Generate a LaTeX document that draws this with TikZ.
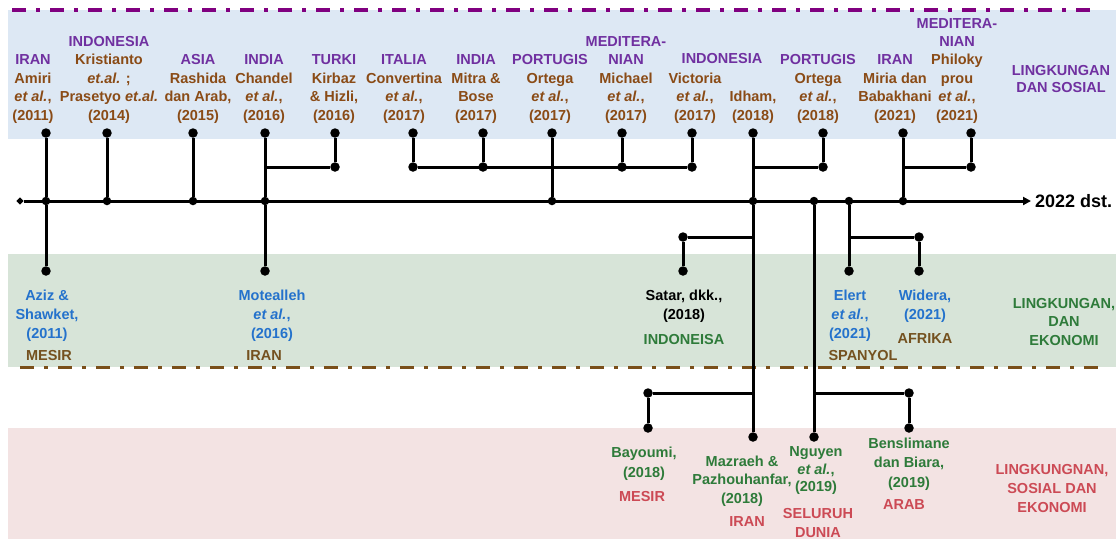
\documentclass[tikz,border=0pt]{standalone}
\usepackage{fontspec}
\setmainfont{Liberation Sans}
\usetikzlibrary{arrows.meta,shapes.geometric}

\definecolor{regpurple}{HTML}{7030A0}
\definecolor{dashpurple}{HTML}{800080}
\definecolor{authbrown}{HTML}{8A4B16}
\definecolor{regbrown}{HTML}{74511F}
\definecolor{authblue}{HTML}{2472CC}
\definecolor{themegreen}{HTML}{2E7B3A}
\definecolor{themered}{HTML}{CC4A55}
\definecolor{bandblue}{HTML}{DDE8F4}
\definecolor{bandgreen}{HTML}{D7E4D8}
\definecolor{bandred}{HTML}{F3E3E3}
\definecolor{dashbrown}{HTML}{7A4F1A}

\newcommand{\lblfont}{\fontsize{14.5}{18.4}\selectfont\bfseries}
\newcommand{\EtAl}{\textit{et al.}}

\begin{document}
\begin{tikzpicture}[x=1pt,y=-1pt,
  lbl/.style={font=\lblfont, align=center, inner sep=0pt},
  toplbl/.style={lbl, anchor=south, text=authbrown},
  botlbl/.style={lbl, anchor=north},
  conn/.style={line width=3pt, black},
  dot/.style={circle, fill=black, inner sep=0pt, minimum size=9.5pt},
  jdot/.style={circle, fill=black, inner sep=0pt, minimum size=8.5pt},
  dashline/.style={line width=3.3pt, dash pattern=on 14pt off 10pt on 4pt off 10pt}]

\useasboundingbox (0,0) rectangle (1116,539);

% theme bands
\fill[bandblue]  (8,10)  rectangle (1116,139);
\fill[bandgreen] (8,254) rectangle (1116,367);
\fill[bandred]   (8,428) rectangle (1116,539);

% band separators
\draw[dashline, dashpurple] (12,10) -- (1092,10);
\draw[dashline, dashbrown]  (20,367.5) -- (1100,367.5);

% ---- points of the tree ----
% top dots
\node[dot] (t1)  at (46,133)  {};
\node[dot] (t2)  at (107,133) {};
\node[dot] (t3)  at (193,133) {};
\node[dot] (t4)  at (265,133) {};
\node[dot] (t5)  at (335,133) {};
\node[dot] (t6)  at (413,133) {};
\node[dot] (t7)  at (483,133) {};
\node[dot] (t8)  at (552,133) {};
\node[dot] (t9)  at (622,133) {};
\node[dot] (t10) at (692,133) {};
\node[dot] (t11) at (753,133) {};
\node[dot] (t12) at (823,133) {};
\node[dot] (t13) at (903,133) {};
\node[dot] (t14) at (971,133) {};
% upper branch dots and corners
\node[dot] (k5)  at (335,167) {};
\node[dot] (k6)  at (413,167) {};
\node[dot] (k7)  at (483,167) {};
\node[dot] (k9)  at (622,167) {};
\node[dot] (k10) at (692,167) {};
\node[dot] (k12) at (823,167) {};
\node[dot] (k14) at (971,167) {};
\coordinate (c4)  at (265,167);
\coordinate (c11) at (753,167);
\coordinate (c13) at (903,167);
% timeline
\node[diamond, fill=black, inner sep=0pt, minimum size=7.5pt] (L) at (20,201) {};
\coordinate (R) at (1031,201);
\node[jdot] (j1)  at (46,201)  {};
\node[jdot] (j2)  at (107,201) {};
\node[jdot] (j3)  at (193,201) {};
\node[jdot] (j4)  at (265,201) {};
\node[jdot] (j8)  at (552,201) {};
\node[jdot] (j11) at (753,201) {};
\node[jdot] (jG)  at (814,201) {};
\node[jdot] (jH)  at (849,201) {};
\node[jdot] (j13) at (903,201) {};
% lower branches
\coordinate (cS) at (753,237);
\coordinate (cE) at (849,237);
\node[dot] (sS) at (683,237) {};
\node[dot] (sW) at (919,237) {};
\node[dot] (g1) at (46,271)  {};
\node[dot] (g4) at (265,271) {};
\node[dot] (gS) at (683,271) {};
\node[dot] (gE) at (849,271) {};
\node[dot] (gW) at (919,271) {};
\coordinate (cB) at (753,393);
\coordinate (cN) at (814,393);
\node[dot] (bB)   at (648,393) {};
\node[dot] (bBy)  at (648,428) {};
\node[dot] (bM)   at (753,437) {};
\node[dot] (bN)   at (814,437) {};
\node[dot] (bBe)  at (909,393) {};
\node[dot] (bBen) at (909,428) {};

% ---- connectors ----
\draw[conn, -{Triangle[length=8pt,width=8pt]}] (L) -- (R);
\draw[conn] (t1) -- (j1) -- (g1);
\draw[conn] (t2) -- (j2);
\draw[conn] (t3) -- (j3);
\draw[conn] (t4) -- (j4) -- (g4);
\draw[conn] (c4) -- (k5) -- (t5);
\draw[conn] (t6) -- (k6);
\draw[conn] (t7) -- (k7);
\draw[conn] (t9) -- (k9);
\draw[conn] (t10) -- (k10);
\draw[conn] (k6) -- (k10);
\draw[conn] (t8) -- (j8);
\draw[conn] (t11) -- (j11) -- (bM);
\draw[conn] (c11) -- (k12) -- (t12);
\draw[conn] (cS) -- (sS) -- (gS);
\draw[conn] (cB) -- (bB) -- (bBy);
\draw[conn] (jG) -- (bN);
\draw[conn] (cN) -- (bBe) -- (bBen);
\draw[conn] (jH) -- (gE);
\draw[conn] (cE) -- (sW) -- (gW);
\draw[conn] (t13) -- (j13);
\draw[conn] (c13) -- (k14) -- (t14);

\node[anchor=west, inner sep=0pt, font=\fontsize{18}{20}\selectfont\bfseries] (endlbl) at (1035,201) {2022 dst.};

% ---- upper labels (environment and social) ----
\node[toplbl] (l1)  at (33,123.3)  {\textcolor{regpurple}{IRAN}\\Amiri\\\EtAl,\\(2011)};
\node[toplbl] (l2)  at (109,123.3) {\textcolor{regpurple}{INDONESIA}\\Kristianto\\\textit{et.al.} ;\\Prasetyo \textit{et.al.}\\(2014)};
\node[toplbl] (l3)  at (198,123.3) {\textcolor{regpurple}{ASIA}\\Rashida\\dan Arab,\\(2015)};
\node[toplbl] (l4)  at (264,123.3) {\textcolor{regpurple}{INDIA}\\Chandel\\\EtAl,\\(2016)};
\node[toplbl] (l5)  at (334,123.3) {\textcolor{regpurple}{TURKI}\\Kirbaz\\\& Hizli,\\(2016)};
\node[toplbl] (l6)  at (404,123.3) {\textcolor{regpurple}{ITALIA}\\Convertina\\\EtAl,\\(2017)};
\node[toplbl] (l7)  at (476,123.3) {\textcolor{regpurple}{INDIA}\\Mitra \&\\Bose\\(2017)};
\node[toplbl] (l8)  at (550,123.3) {\textcolor{regpurple}{PORTUGIS}\\Ortega\\\EtAl,\\(2017)};
\node[toplbl] (l9)  at (626,123.3) {\textcolor{regpurple}{MEDITERA-}\\\textcolor{regpurple}{NIAN}\\Michael\\\EtAl,\\(2017)};
\node[toplbl] (l10) at (695,123.3) {Victoria\\\EtAl,\\(2017)};
\node[lbl, text=regpurple] (l10r) at (722,59) {INDONESIA};
\node[toplbl] (l11) at (753,123.3) {Idham,\\(2018)};
\node[toplbl] (l12) at (818,123.3) {\textcolor{regpurple}{PORTUGIS}\\Ortega\\\EtAl,\\(2018)};
\node[toplbl] (l13) at (895,123.3) {\textcolor{regpurple}{IRAN}\\Miria dan\\Babakhani\\(2021)};
\node[toplbl] (l14) at (957,123.3) {\textcolor{regpurple}{MEDITERA-}\\\textcolor{regpurple}{NIAN}\\Philoky\\prou\\\EtAl,\\(2021)};
\node[botlbl, text=regpurple, font=\fontsize{14.5}{17.5}\selectfont\bfseries] (th1) at (1061,64.8) {LINGKUNGAN\\DAN SOSIAL};

% ---- middle labels (environment and economy) ----
\node[botlbl, text=authblue, font=\fontsize{14.5}{19}\selectfont\bfseries] (m1) at (47,289.7) {Aziz \&\\Shawket,\\(2011)};
\node[lbl, text=regbrown] (m1r) at (49,356) {MESIR};
\node[botlbl, text=authblue, font=\fontsize{14.5}{19}\selectfont\bfseries] (m2) at (272,289.7) {Motealleh\\\EtAl,\\(2016)};
\node[lbl, text=regbrown] (m2r) at (264,356) {IRAN};
\node[botlbl, text=black, font=\fontsize{14.5}{19}\selectfont\bfseries] (m3) at (684,289.7) {Satar, dkk.,\\(2018)};
\node[lbl, text=themegreen] (m3r) at (684,339) {INDONEISA};
\node[botlbl, text=authblue, font=\fontsize{14.5}{19}\selectfont\bfseries] (m4) at (850,289.7) {Elert\\\EtAl,\\(2021)};
\node[lbl, text=regbrown] (m4r) at (863,356) {SPANYOL};
\node[botlbl, text=authblue, font=\fontsize{14.5}{19}\selectfont\bfseries] (m5) at (925,289.7) {Widera,\\(2021)};
\node[lbl, text=regbrown] (m5r) at (925,339) {AFRIKA};
\node[botlbl, text=themegreen, font=\fontsize{14.5}{18.5}\selectfont\bfseries] (th2) at (1064,297.7) {LINGKUNGAN,\\DAN\\EKONOMI};

% ---- lower labels (environment, social and economy) ----
\node[botlbl, text=themegreen, font=\fontsize{14.5}{20}\selectfont\bfseries] (b1) at (644,446.7) {Bayoumi,\\(2018)};
\node[lbl, text=themered] (b1r) at (642,496) {MESIR};
\node[botlbl, text=themegreen, font=\fontsize{14.5}{18.5}\selectfont\bfseries] (b2) at (742,455.7) {Mazraeh \&\\Pazhouhanfar,\\(2018)};
\node[lbl, text=themered] (b2r) at (747,522) {IRAN};
\node[botlbl, text=themegreen, font=\fontsize{14.5}{17.5}\selectfont\bfseries] (b3) at (816,446.7) {Nguyen\\\EtAl,\\(2019)};
\node[botlbl, text=themered, font=\fontsize{14.5}{19}\selectfont\bfseries] (b3r) at (818,507.7) {SELURUH\\DUNIA};
\node[botlbl, text=themegreen, font=\fontsize{14.5}{19.5}\selectfont\bfseries] (b4) at (909,437.7) {Benslimane\\dan Biara,\\(2019)};
\node[lbl, text=themered] (b4r) at (904,505) {ARAB};
\node[botlbl, text=themered, font=\fontsize{14.5}{19}\selectfont\bfseries] (th3) at (1052,463.7) {LINGKUNGNAN,\\SOSIAL DAN\\EKONOMI};

\end{tikzpicture}
\end{document}
